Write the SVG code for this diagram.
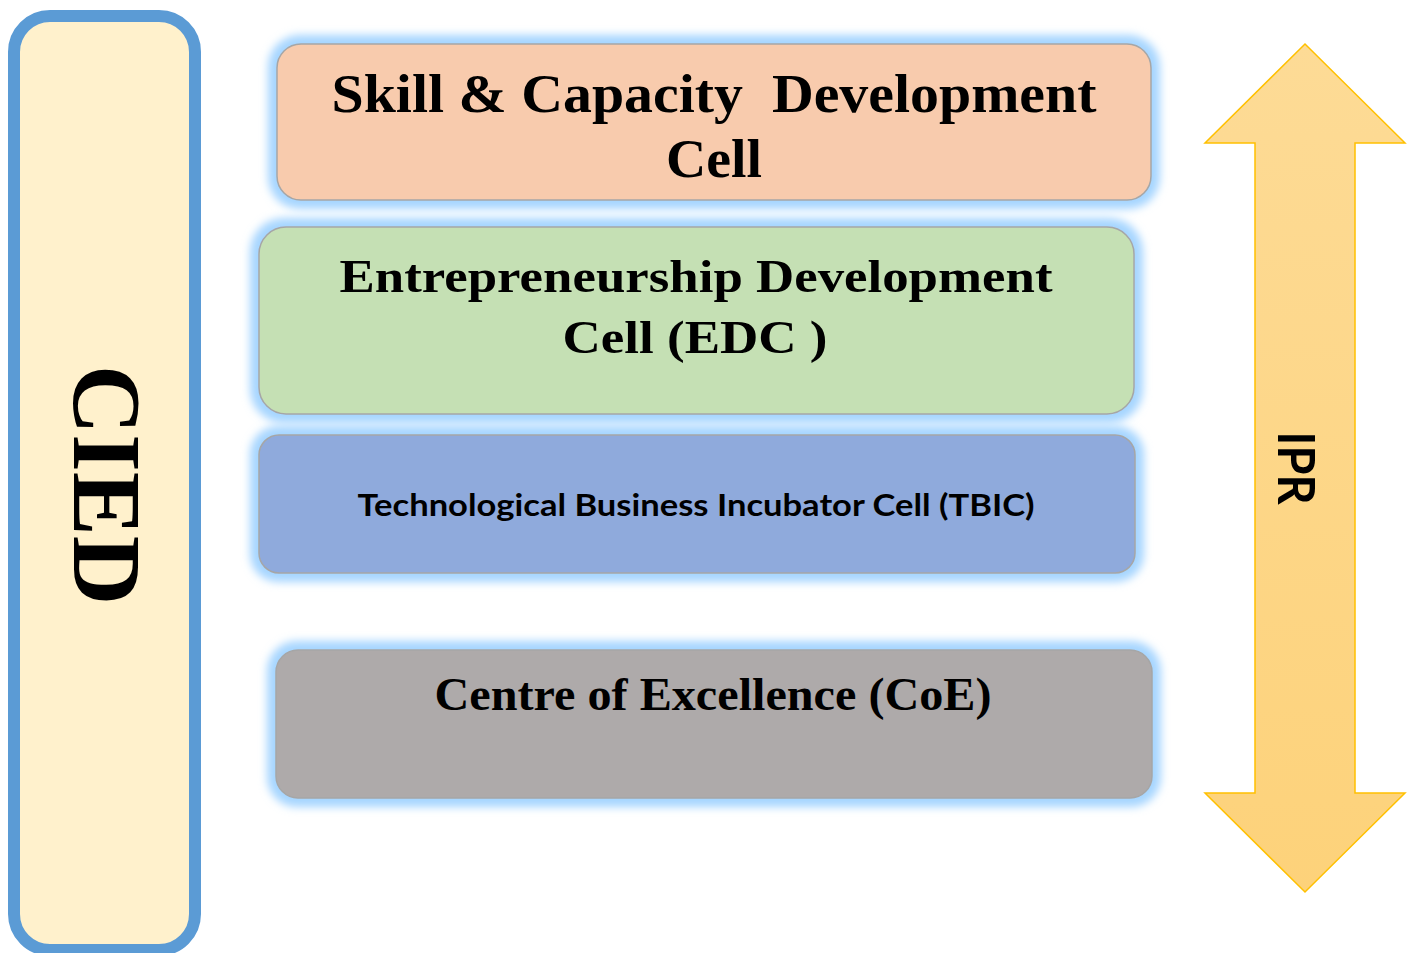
<svg xmlns="http://www.w3.org/2000/svg" width="1415" height="953" viewBox="0 0 1415 953">
  <defs>
    <style>
      .serif { font-family: "Liberation Serif", "DejaVu Serif", serif; font-weight: bold; fill: #000; }
      .sans { font-family: Lato, "Liberation Sans", sans-serif; font-weight: bold; fill: #000; }
      .box { stroke: #a6a6a6; stroke-width: 1.5; }
      .glow { fill: #a6d5ff; filter: url(#blur); }
    </style>
    <filter id="blur" x="-10%" y="-30%" width="120%" height="160%">
      <feGaussianBlur stdDeviation="4"/>
    </filter>
    <linearGradient id="arrowGrad" x1="0" y1="0" x2="0" y2="1">
      <stop offset="0" stop-color="#fddb96"/>
      <stop offset="1" stop-color="#fdd27a"/>
    </linearGradient>
  </defs>

  <rect width="1415" height="953" fill="#ffffff"/>

  <g id="cied">
    <rect x="14" y="16" width="181" height="934" rx="36" ry="36" fill="#fff1cc" stroke="#5b9bd5" stroke-width="12"/>
    <text class="serif" transform="translate(74,485) rotate(90)" x="0" y="0" text-anchor="middle" font-size="98" textLength="240" lengthAdjust="spacingAndGlyphs">CIED</text>
  </g>

  <g id="ipr">
    <path d="M1305,44 L1405,143 L1355,143 L1355,793 L1405,793 L1305,892 L1205,793 L1255,793 L1255,143 L1205,143 Z" fill="url(#arrowGrad)" stroke="#ffc000" stroke-width="1.5" stroke-linejoin="miter"/>
    <text class="sans" transform="translate(1278,468) rotate(90)" x="0" y="0" text-anchor="middle" font-size="51" textLength="73" lengthAdjust="spacingAndGlyphs">IPR</text>
  </g>

  <g id="skill">
    <rect class="glow" x="268" y="35" width="892" height="174" rx="32"/>
    <rect class="box" x="277" y="44" width="874" height="156" rx="24" fill="#f8cbad"/>
    <text class="serif" x="714" y="112" text-anchor="middle" font-size="54" textLength="765" lengthAdjust="spacingAndGlyphs" xml:space="preserve">Skill &amp; Capacity  Development</text>
    <text class="serif" x="714" y="177" text-anchor="middle" font-size="54" textLength="96" lengthAdjust="spacingAndGlyphs">Cell</text>
  </g>

  <g id="edc">
    <rect class="glow" x="250" y="218" width="893" height="205" rx="34"/>
    <rect class="box" x="259" y="227" width="875" height="187" rx="27" fill="#c5e0b4"/>
    <text class="serif" x="696" y="292" text-anchor="middle" font-size="47" textLength="713" lengthAdjust="spacingAndGlyphs">Entrepreneurship Development</text>
    <text class="serif" x="695" y="353" text-anchor="middle" font-size="47" textLength="265" lengthAdjust="spacingAndGlyphs">Cell (EDC )</text>
  </g>

  <g id="tbic">
    <rect class="glow" x="250" y="426" width="894" height="156" rx="28"/>
    <rect class="box" x="259" y="435" width="876" height="138" rx="20" fill="#8faadc"/>
    <text class="sans" x="696" y="516" text-anchor="middle" font-size="31" textLength="677" lengthAdjust="spacingAndGlyphs">Technological Business Incubator Cell (TBIC)</text>
  </g>

  <g id="coe">
    <rect class="glow" x="267" y="641" width="894" height="166" rx="30"/>
    <rect class="box" x="276" y="650" width="876" height="148" rx="22" fill="#aeaaaa"/>
    <text class="serif" x="713" y="710" text-anchor="middle" font-size="47" textLength="557" lengthAdjust="spacingAndGlyphs">Centre of Excellence (CoE)</text>
  </g>

  <g id="connectors"></g>
</svg>
